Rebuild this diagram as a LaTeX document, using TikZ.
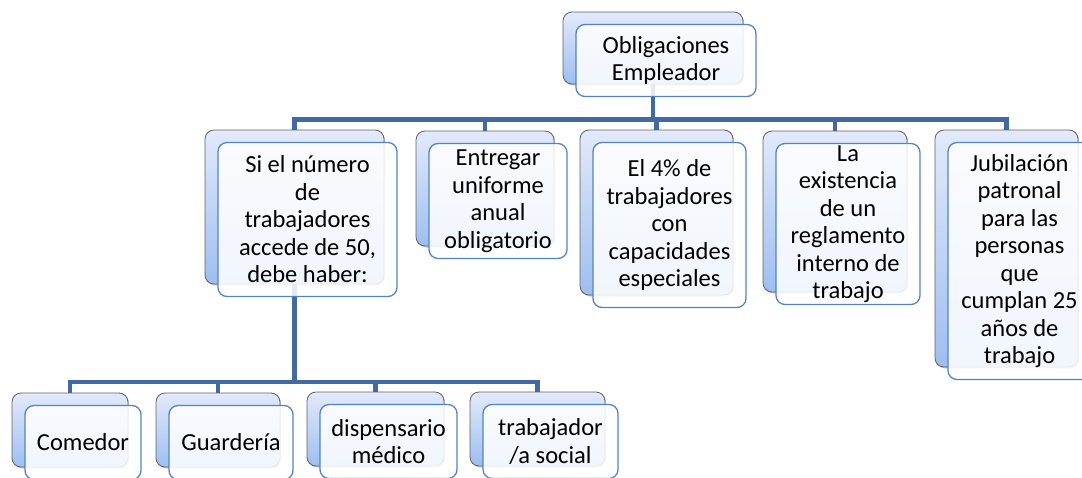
\documentclass[tikz,border=0pt]{standalone}
\usepackage{fontspec}
\setmainfont{Carlito}
\usetikzlibrary{shadows}
\definecolor{conn}{RGB}{66,106,160}
\definecolor{frontborder}{RGB}{84,132,192}
\definecolor{backborder}{RGB}{96,96,96}
\definecolor{backtop}{RGB}{226,234,251}
\definecolor{backbot}{RGB}{158,190,240}
\tikzset{
  backbox/.style={draw=backborder, line width=0.8pt, rounded corners=9pt,
    top color=backtop, bottom color=backbot, anchor=north west, inner sep=0pt, outer sep=0pt,
    drop shadow={shadow xshift=1.2pt, shadow yshift=-1.5pt, opacity=0.35, fill=black!60}},
  frontbox/.style={draw=frontborder, line width=1.3pt, rounded corners=9pt,
    fill=white, fill opacity=0.86, anchor=north west, inner sep=0pt, outer sep=0pt},
  txt/.style={align=center, inner sep=0pt, font=\fontsize{24.5}{27.5}\selectfont, text=black},
  conn/.style={draw=conn, line width=4.6pt}
}
\newcommand\boxpair[6]{%
  \node[backbox, minimum width=#4pt, minimum height=#5pt] (#1b) at (#2,-#3) {};
  \node[frontbox, minimum width=#4pt, minimum height=#5pt] (#1) at (#2+13,-#3-12.5) {};
  \node[txt] (#1t) at (#1.center) {#6};
}
\begin{document}
\begin{tikzpicture}[x=1pt,y=1pt]
\useasboundingbox (0,0) rectangle (1082,-477);
% connectors first (behind boxes)
\coordinate (topc) at (653,-84);
\coordinate (b1c) at (294.5,-284);
\draw[conn] (topc) -- ++(0,-35.5) -| (294.5,-130);
\draw[conn] (topc) -- ++(0,-35.5) -| (485,-131);
\draw[conn] (topc) -- ++(0,-35.5) -| (656.5,-130);
\draw[conn] (topc) -- ++(0,-35.5) -| (835,-131);
\draw[conn] (topc) -- ++(0,-35.5) -| (1006.5,-130);
\draw[conn] (b1c) -- ++(0,-98) -| (70,-393);
\draw[conn] (b1c) -- ++(0,-98) -| (218,-393);
\draw[conn] (b1c) -- ++(0,-98) -| (375.5,-392);
\draw[conn] (b1c) -- ++(0,-98) -| (537.5,-392);
% boxes
\boxpair{top}{563}{12}{180}{72}{Obligaciones\\Empleador}
\boxpair{bi}{205}{130}{179}{154}{Si el número\\de\\trabajadores\\accede de 50,\\debe haber:}
\boxpair{bii}{416}{131}{138}{115}{Entregar\\uniforme\\anual\\obligatorio}
\boxpair{biii}{580}{130}{153}{165}{El 4\% de\\trabajadores\\con\\capacidades\\especiales}
\boxpair{biv}{763}{131}{144}{161}{La\\existencia\\de un\\reglamento\\interno de\\trabajo}
\boxpair{bv}{935}{130}{143}{237}{Jubilación\\patronal\\para las\\personas\\que\\cumplan 25\\años de\\trabajo}
\boxpair{ci}{12}{393}{116}{74}{Comedor}
\boxpair{cii}{156}{393}{124}{74}{Guardería}
\boxpair{ciii}{307}{392}{137}{74}{dispensario\\médico}
\boxpair{civ}{470}{392}{135}{74}{trabajador\\/a social}
\end{tikzpicture}
\end{document}
